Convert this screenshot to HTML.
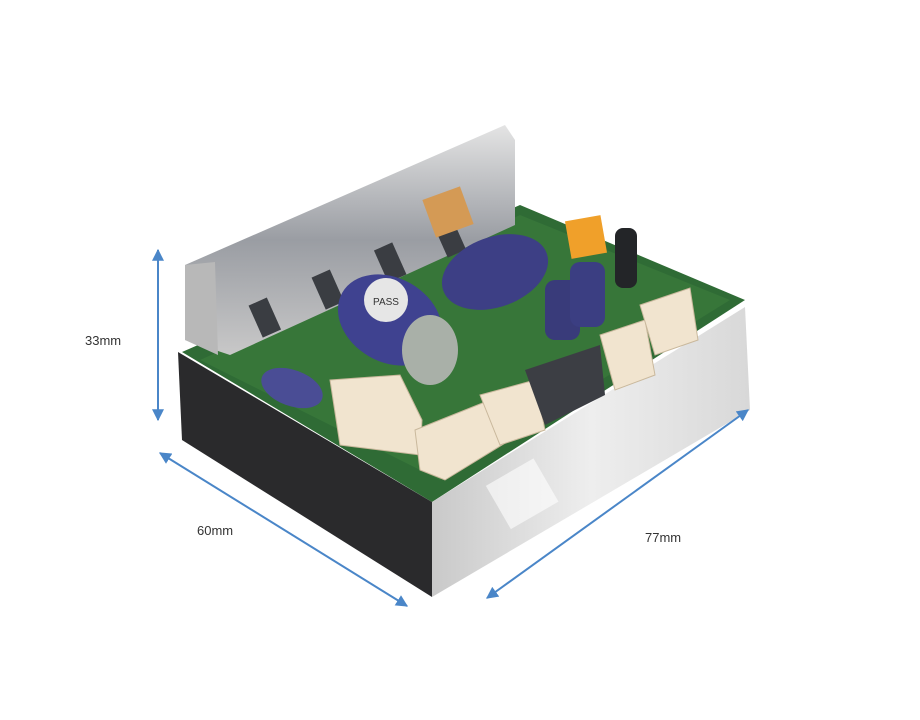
<!DOCTYPE html>
<html><head><style>
html,body{margin:0;padding:0;background:#fff;width:920px;height:720px;overflow:hidden}
svg{display:block}
text{font-family:"Liberation Sans",sans-serif}
</style></head><body>
<svg width="920" height="720" viewBox="0 0 920 720" xmlns="http://www.w3.org/2000/svg">
<defs>
<linearGradient id="al" x1="0" y1="0" x2="1" y2="0"><stop offset="0" stop-color="#c9c9c9"/><stop offset=".5" stop-color="#eeeeee"/><stop offset="1" stop-color="#d8d8d8"/></linearGradient>
<linearGradient id="hs" x1="0" y1="0" x2="0" y2="1"><stop offset="0" stop-color="#e4e4e4"/><stop offset=".5" stop-color="#9a9da3"/><stop offset="1" stop-color="#c8c8c8"/></linearGradient>
<marker id="ah" viewBox="0 0 10 10" refX="9" refY="5" markerWidth="6" markerHeight="6" orient="auto-start-reverse"><path d="M0,0L10,5L0,10z" fill="#4a86c8"/></marker>
</defs>
<!-- PCB top -->
<polygon points="182,352 520,205 745,300 432,502" fill="#2f6b35"/>
<polygon points="200,360 520,215 730,300 440,480" fill="#3b7a3c" opacity=".7"/>
<!-- heatsink -->
<polygon points="185,265 505,125 515,140 515,225 230,355 185,340" fill="url(#hs)"/>
<polygon points="185,265 215,262 218,355 185,340" fill="#b8b8b8"/>
<g fill="#3a3d42">
<rect x="255" y="300" width="20" height="35" transform="rotate(-24 265 318)"/>
<rect x="318" y="272" width="20" height="35" transform="rotate(-24 328 290)"/>
<rect x="380" y="245" width="20" height="35" transform="rotate(-24 390 262)"/>
<rect x="440" y="220" width="20" height="35" transform="rotate(-24 450 238)"/>
</g>
<rect x="428" y="192" width="40" height="40" fill="#d49a55" transform="rotate(-20 448 212)"/>
<!-- black left face -->
<polygon points="178,352 432,502 432,597 182,440" fill="#2a2a2c"/>
<!-- aluminium right face -->
<polygon points="432,502 745,307 750,410 432,597" fill="url(#al)"/>
<rect x="495" y="470" width="55" height="50" fill="#fff" opacity=".6" transform="rotate(-30 520 495)"/>
<!-- capacitors -->
<ellipse cx="495" cy="272" rx="55" ry="35" fill="#3d3f85" transform="rotate(-20 495 272)"/>
<ellipse cx="390" cy="320" rx="55" ry="42" fill="#3f4290" transform="rotate(30 390 320)"/>
<ellipse cx="430" cy="350" rx="28" ry="35" fill="#a9b0a8"/>
<circle cx="386" cy="300" r="22" fill="#e6e6e6"/>
<text x="386" y="305" font-size="10" text-anchor="middle" fill="#333">PASS</text>
<rect x="545" y="280" width="35" height="60" rx="10" fill="#393b7a"/>
<rect x="570" y="262" width="35" height="65" rx="10" fill="#3b3e82"/>
<rect x="615" y="228" width="22" height="60" rx="8" fill="#232528"/>
<rect x="568" y="218" width="36" height="38" fill="#f0a02a" transform="rotate(-10 586 237)"/>
<ellipse cx="292" cy="388" rx="32" ry="18" fill="#4a4d95" transform="rotate(20 292 388)"/>
<!-- connectors -->
<g fill="#f1e4cf" stroke="#c9b89c">
<polygon points="330,380 400,375 422,420 420,455 340,445"/>
<polygon points="415,430 490,400 510,440 445,480 420,470"/>
<polygon points="480,395 535,380 545,430 500,445"/>
<polygon points="600,335 645,320 655,375 615,390"/>
<polygon points="640,305 690,288 698,340 655,355"/>
</g>
<polygon points="525,370 600,345 605,395 545,425" fill="#3c3e44"/>
<!-- arrows -->
<g stroke="#4a86c8" stroke-width="2" fill="none" marker-start="url(#ah)" marker-end="url(#ah)">
<line x1="158" y1="250" x2="158" y2="420"/>
<line x1="160" y1="453" x2="407" y2="606"/>
<line x1="487" y1="598" x2="748" y2="410"/>
</g>
<text x="85" y="345" font-size="13" fill="#333">33mm</text>
<text x="197" y="535" font-size="13" fill="#333">60mm</text>
<text x="645" y="542" font-size="13" fill="#333">77mm</text>
</svg>
</body></html>
